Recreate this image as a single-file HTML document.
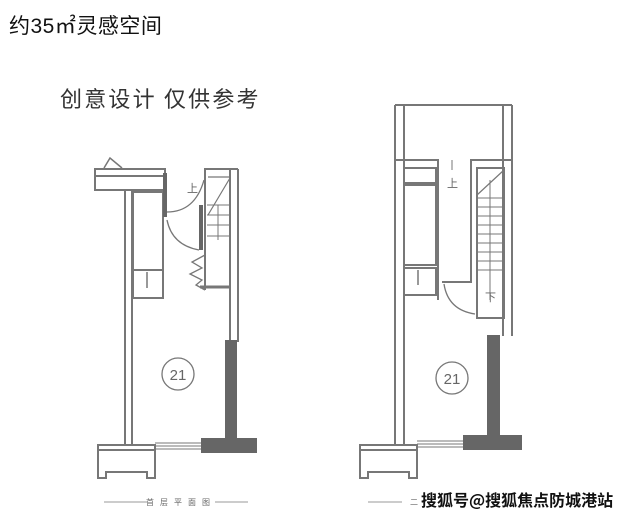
<!DOCTYPE html>
<html><head><meta charset="utf-8"><style>
html,body{margin:0;padding:0;background:#fff;width:631px;height:517px;overflow:hidden}
svg{display:block}
</style></head><body>
<svg width="631" height="517" viewBox="0 0 631 517" xmlns="http://www.w3.org/2000/svg">
<text x="9" y="33" font-family="Liberation Sans,'Noto Sans CJK SC',sans-serif" font-size="21" fill="#111" letter-spacing="0.5">约35㎡灵感空间</text>
<text x="60" y="107" font-family="'Noto Sans CJK SC',sans-serif" font-size="22" fill="#333" letter-spacing="2.2">创意设计 仅供参考</text>

<g fill="none" stroke="#777" stroke-width="2">
<!-- LEFT PLAN -->
<rect x="95" y="169" width="70" height="21"/>
<line x1="95" y1="176" x2="165" y2="176"/>
<polyline points="104,168 110,158 122,168" stroke-width="1.5"/>
<line x1="125" y1="190" x2="125" y2="444"/>
<line x1="132" y1="190" x2="132" y2="444"/>
<rect x="133" y="192" width="30" height="78"/>
<rect x="133" y="270" width="30" height="28"/>
<line x1="147" y1="272" x2="147" y2="288" stroke-width="1.5"/>
<line x1="205" y1="168" x2="205" y2="290"/>
<line x1="205" y1="169" x2="238" y2="169"/>
<line x1="230" y1="169" x2="230" y2="342"/>
<line x1="238" y1="169" x2="238" y2="342"/>
<line x1="208" y1="177" x2="230" y2="177" stroke-width="1.2"/>
<line x1="208" y1="215" x2="230" y2="178" stroke-width="1.2"/>
<g stroke-width="1"><line x1="207" y1="205" x2="230" y2="205"/><line x1="207" y1="215" x2="230" y2="215"/><line x1="207" y1="225" x2="230" y2="225"/><line x1="207" y1="236" x2="230" y2="236"/><line x1="218" y1="205" x2="218" y2="240"/></g>
<path d="M167 212 Q195 212 204 180" stroke-width="1.3"/>
<path d="M167 220 Q172 245 199 250" stroke-width="1.3"/>
<polyline points="205,255 192,262 202,268 190,274 202,280 196,285 205,290" stroke-width="1.3"/>
<line x1="200" y1="287" x2="230" y2="287" stroke-width="3"/>
<path d="M98 478 V445 H155 V478 H147 V472 H106 V478 Z"/>
<line x1="98" y1="450" x2="155" y2="450"/>
<g stroke-width="1"><line x1="155" y1="443" x2="202" y2="443"/><line x1="155" y1="446" x2="202" y2="446"/><line x1="155" y1="449" x2="202" y2="449"/></g>
<circle cx="178" cy="374" r="16" stroke-width="1.3"/>

<!-- RIGHT PLAN -->
<line x1="395" y1="105" x2="512" y2="105"/>
<line x1="395" y1="105" x2="395" y2="444"/>
<line x1="404" y1="105" x2="404" y2="444"/>
<line x1="503" y1="105" x2="503" y2="336"/>
<line x1="512" y1="105" x2="512" y2="336"/>
<polyline points="395,160 438,160 438,300"/>
<polyline points="512,160 471,160 471,282 442,282"/>
<rect x="404" y="168" width="32" height="15"/>
<rect x="404" y="185" width="32" height="80"/>
<rect x="404" y="268" width="32" height="27"/>
<line x1="418" y1="270" x2="418" y2="285" stroke-width="1.5"/>
<rect x="477" y="168" width="27" height="150"/>
<line x1="477" y1="195" x2="504" y2="170" stroke-width="1.2"/>
<g stroke-width="1"><line x1="478" y1="198" x2="503" y2="198"/><line x1="478" y1="207" x2="503" y2="207"/><line x1="478" y1="216" x2="503" y2="216"/><line x1="478" y1="225" x2="503" y2="225"/><line x1="478" y1="234" x2="503" y2="234"/><line x1="478" y1="243" x2="503" y2="243"/><line x1="478" y1="252" x2="503" y2="252"/><line x1="478" y1="261" x2="503" y2="261"/><line x1="478" y1="270" x2="503" y2="270"/><line x1="490" y1="180" x2="490" y2="300"/><line x1="452" y1="160" x2="452" y2="170"/></g>
<path d="M444 284 Q448 310 475 314" stroke-width="1.3"/>
<path d="M360 478 V445 H417 V478 H409 V472 H368 V478 Z"/>
<line x1="360" y1="450" x2="417" y2="450"/>
<g stroke-width="1"><line x1="417" y1="441" x2="465" y2="441"/><line x1="417" y1="444" x2="465" y2="444"/><line x1="417" y1="447" x2="465" y2="447"/></g>
<circle cx="452" cy="378" r="16" stroke-width="1.3"/>
</g>

<g fill="#666">
<rect x="163" y="173" width="4" height="44"/>
<rect x="199" y="205" width="4" height="45"/>
<rect x="225" y="340" width="12" height="100"/>
<rect x="201" y="438" width="56" height="15"/>
<rect x="487" y="335" width="13" height="102"/>
<rect x="463" y="435" width="59" height="15"/>
</g>
<g font-family="'Noto Sans CJK SC',sans-serif" fill="#666">
<text x="187" y="192" font-size="11">上</text>
<text x="447" y="187" font-size="11">上</text>
<text x="485" y="301" font-size="11">下</text>
<text x="178" y="380" font-size="15" text-anchor="middle" font-family="Liberation Sans,sans-serif">21</text>
<text x="452" y="384" font-size="15" text-anchor="middle" font-family="Liberation Sans,sans-serif">21</text>
<text x="181" y="505" font-size="8" text-anchor="middle" letter-spacing="6">首层平面图</text>
<text x="410" y="505" font-size="8">二</text>
</g>
<g stroke="#999" stroke-width="1"><line x1="104" y1="502" x2="148" y2="502"/><line x1="215" y1="502" x2="248" y2="502"/><line x1="368" y1="502" x2="402" y2="502"/></g>
<text x="421" y="506" font-family="'Noto Sans CJK SC',sans-serif" font-size="16" font-weight="bold" fill="#111">搜狐号@搜狐焦点防城港站</text>
</svg>
</body></html>
